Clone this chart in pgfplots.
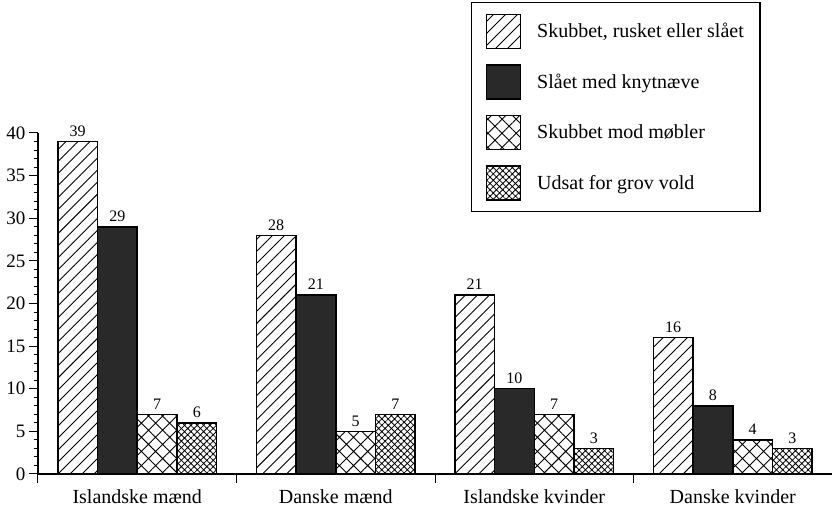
\documentclass[border=0pt]{standalone}
\usepackage{fontspec}
\setmainfont{Liberation Serif}
\usepackage{pgfplots}
\pgfplotsset{compat=1.18}
\usetikzlibrary{patterns.meta}
\newcommand{\bigf}{\fontsize{20}{23}\selectfont}
\begin{document}
\begin{tikzpicture}
\begin{axis}[
  name=ax,
  scale only axis, width=794pt, height=341pt,
  ybar=0pt, bar width=0.2,
  xmin=-0.5, xmax=3.5, ymin=0, ymax=40,
  enlargelimits=false,
  axis x line=bottom, axis y line=left,
  axis line style={-, line width=1.2pt},
  xtick={-0.5,0.5,1.5,2.5,3.5},
  x tick label as interval,
  xticklabels={Islandske mænd, Danske mænd, Islandske kvinder, Danske kvinder},
  ytick={0,5,...,40}, minor y tick num=4,
  tick align=outside, major tick length=9pt, minor tick length=4pt,
  tick style={line width=1pt, black},
  xticklabel style={font=\bigf, inner ysep=1pt, yshift=-5pt},
  yticklabel style={font=\fontsize{19}{22}\selectfont},
  /pgf/number format/assume math mode=true,
  nodes near coords,
  every node near coord/.append style={font=\fontsize{16}{18}\selectfont, yshift=1pt},
  legend style={at={(0.5453,1.3842)}, anchor=north west, draw=black, line width=1.5pt,
    font=\bigf, inner xsep=14pt, inner ysep=11pt, row sep=15pt, column sep=14pt},
  legend cell align=left,
  legend image code/.code={\draw[#1, line width=1.5pt] (0pt,-17pt) rectangle (34pt,17pt);},
]
\addplot[draw=black, line width=1.5pt, pattern={Lines[angle=45,distance=8.5pt,line width=0.9pt]}]
  coordinates {(0,39) (1,28) (2,21) (3,16)};
\addplot[draw=black, line width=1.5pt, fill=black!84]
  coordinates {(0,29) (1,21) (2,10) (3,8)};
\addplot[draw=black, line width=1.5pt, pattern={Hatch[angle=45,distance=10pt,line width=0.9pt]}]
  coordinates {(0,7) (1,5) (2,7) (3,4)};
\addplot[draw=black, line width=1.5pt, pattern={Hatch[angle=45,distance=4.5pt,line width=0.8pt]}]
  coordinates {(0,6) (1,7) (2,3) (3,3)};
\legend{{Skubbet, rusket eller slået}, {Slået med knytnæve}, {Skubbet mod møbler}, {Udsat for grov vold}}
\end{axis}
\pgfresetboundingbox
\path[use as bounding box] ([xshift=-38pt,yshift=-34pt]ax.south west) rectangle ([yshift=133pt]ax.north east);
\end{tikzpicture}
\end{document}
